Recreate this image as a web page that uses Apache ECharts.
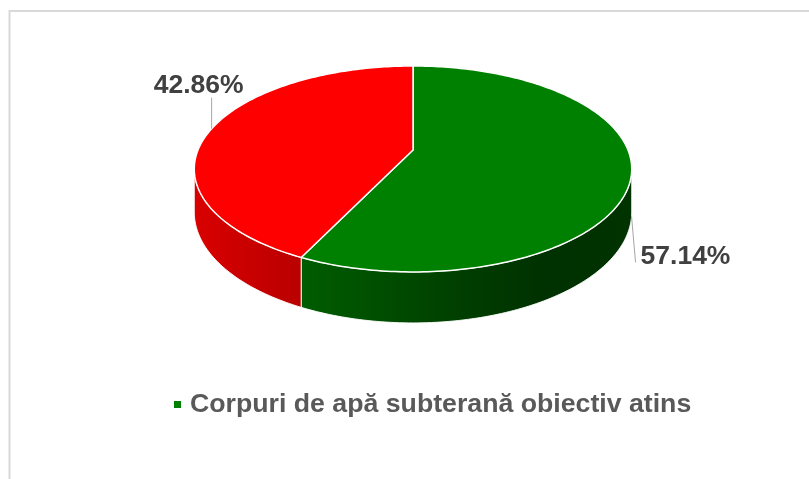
<!DOCTYPE html>
<html><head><meta charset="utf-8">
<script src="https://cdn.jsdelivr.net/npm/echarts@6/dist/echarts.min.js"></script>
<style>html,body{margin:0;padding:0;background:#fff}#c{width:809px;height:479px}</style>
</head><body><div id="c"></div>
<script>
// ---- data ----
const categories = ['Corpuri de apă subterană obiectiv atins', 'Corpuri de apă subterană obiectiv neatins'];
const values = [4, 3];
const colors = ['#008000', '#FF0000'];

// ---- derived ----
const total = values.reduce((a, b) => a + b, 0);
const percentLabels = values.map(v => (v / total * 100).toFixed(2) + '%');
const startAngles = []; let acc = 0;
values.forEach(v => { startAngles.push(acc / total * 360); acc += v; });
const endAngles = values.map((v, i) => startAngles[i] + v / total * 360);

// ---- 3D geometry (perspective tilt) ----
const G = { cx: 413, cy: 150, rx: 215, ry: 99.5, k: 0.184, h: 41.6 };
function proj(deg, bottom) {
  const t = deg * Math.PI / 180, s = Math.sin(t), c = Math.cos(t), w = 1 + G.k * c;
  return [G.cx + G.rx * s / w, G.cy - G.ry * c / w + (bottom ? G.h / w : 0)];
}
function arc(a0, a1, bottom) {
  const pts = []; const n = Math.max(2, Math.ceil(Math.abs(a1 - a0)));
  for (let i = 0; i <= n; i++) pts.push(proj(a0 + (a1 - a0) * i / n, bottom));
  return pts;
}
const sideLo = Math.acos(-G.k) * 180 / Math.PI;
const sideHi = 360 - sideLo;
const leftX = G.cx - G.rx / Math.sqrt(1 - G.k * G.k);
const rightX = G.cx + G.rx / Math.sqrt(1 - G.k * G.k);
const shadeStops = [[0, 0.85], [0.24, 0.73], [0.64, 0.47], [0.8, 0.38], [1, 0.40]];
function scaleColor(hex, f) {
  const n = parseInt(hex.slice(1), 16);
  const r = Math.round(((n >> 16) & 255) * f), g = Math.round(((n >> 8) & 255) * f), b = Math.round((n & 255) * f);
  return 'rgb(' + r + ',' + g + ',' + b + ')';
}
function sideGradient(hex) {
  return { type: 'linear', x: leftX, y: 0, x2: rightX, y2: 0, global: true,
    colorStops: shadeStops.map(s => ({ offset: s[0], color: scaleColor(hex, s[1]) })) };
}

function renderSide(params, api) {
  const i = params.dataIndex;
  const lo = Math.max(startAngles[i], sideLo), hi = Math.min(endAngles[i], sideHi);
  if (hi <= lo) return null;
  const pts = arc(lo, hi, false).concat(arc(hi, lo, true));
  return { type: 'polygon', shape: { points: pts },
    style: { fill: sideGradient(colors[i]), stroke: 'rgba(255,255,255,0.9)', lineWidth: 1 } };
}

function renderTop(params, api) {
  const i = params.dataIndex;
  const pts = [[G.cx, G.cy]].concat(arc(startAngles[i], endAngles[i], false));
  const mid = (startAngles[i] + endAngles[i]) / 2;
  const front = Math.cos(mid * Math.PI / 180) < 0;
  const anchor = proj(mid, front);
  let lineEnd, textPos, align;
  if (front) { lineEnd = [anchor[0] + 4, anchor[1] + 46]; textPos = [lineEnd[0] + 5, lineEnd[1] - 6]; align = 'left'; }
  else { lineEnd = [anchor[0], anchor[1] - 31]; textPos = [lineEnd[0] - 13, lineEnd[1] - 12]; align = 'center'; }
  return { type: 'group', children: [
    { type: 'polygon', shape: { points: pts }, style: { fill: colors[i], stroke: '#ffffff', lineWidth: 1.5 } },
    { type: 'line', shape: { x1: anchor[0], y1: anchor[1], x2: lineEnd[0], y2: lineEnd[1] },
      style: { stroke: '#a6a6a6', lineWidth: 1 } },
    { type: 'text', x: textPos[0], y: textPos[1],
      style: { text: percentLabels[i], fill: '#404040', fontSize: 26.5, fontWeight: 'bold',
        fontFamily: '"Liberation Sans", Arial, sans-serif', align: align, verticalAlign: 'middle',
        textAlign: align, textVerticalAlign: 'middle' } }
  ] };
}

const chart = echarts.init(document.getElementById('c'), null, { renderer: 'canvas' });
chart.setOption({
  animation: false,
  backgroundColor: '#ffffff',
  graphic: [{ type: 'rect', shape: { x: 9.5, y: 11, width: 900, height: 600 },
    style: { fill: 'none', stroke: '#d9d9d9', lineWidth: 2 }, silent: true, z: -1 }],
  legend: {
    data: [categories[0]], left: 169, top: 386, icon: 'rect', itemWidth: 7, itemHeight: 7,
    textStyle: { fontSize: 26.7, fontWeight: 'bold', color: '#595959', fontFamily: '"Liberation Sans", Arial, sans-serif', padding: [0, 0, 0, 4] }
  },
  series: [
    { type: 'custom', name: 'side', coordinateSystem: 'none', z: 1, renderItem: renderSide, data: values, silent: true },
    { type: 'custom', name: categories[0], coordinateSystem: 'none', z: 2, renderItem: renderTop, data: values,
      itemStyle: { color: colors[0] }, silent: true }
  ]
});
</script></body></html>
